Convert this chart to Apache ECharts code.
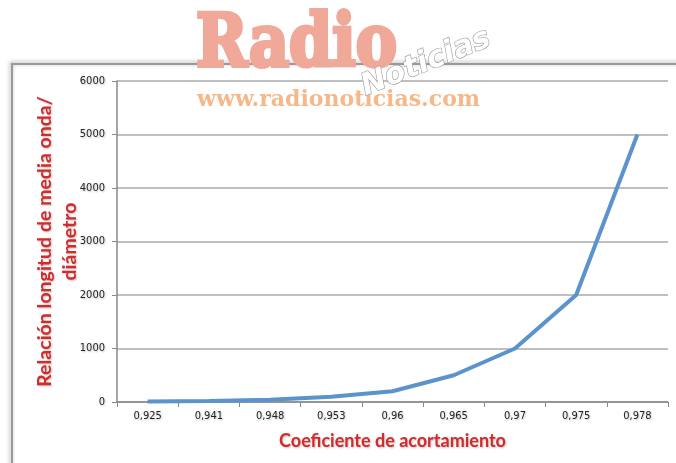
<!DOCTYPE html>
<html>
<head>
<meta charset="utf-8">
<script src="https://cdn.jsdelivr.net/npm/echarts@6/dist/echarts.min.js"></script>
<style>html,body{margin:0;padding:0;background:#fff}#c{width:676px;height:463px}</style>
</head>
<body>
<div id="c"></div>
<script>
var categories = ['0,925','0,941','0,948','0,953','0,96','0,965','0,97','0,975','0,978'];
var ratioValues = [10, 20, 40, 100, 200, 500, 1000, 2000, 5000];
var yTicks = [0, 1000, 2000, 3000, 4000, 5000, 6000];

var chart = echarts.init(document.getElementById('c'));
var labelFont = 'Lato';
var shadow = {textShadowColor: 'rgba(0,0,0,0.25)', textShadowBlur: 2, textShadowOffsetX: 1, textShadowOffsetY: 1};
chart.setOption({
  animation: false,
  backgroundColor: '#fff',
  grid: {left: 117, right: 8, top: 81, bottom: 61, containLabel: false},
  xAxis: {
    type: 'category',
    data: categories,
    name: 'Coeficiente de acortamiento',
    nameLocation: 'middle',
    nameGap: 30,
    nameMoveOverlap: false,
    nameTextStyle: Object.assign({color: '#d42a2a', fontFamily: labelFont, fontWeight: 'bold', fontSize: 18}, shadow),
    axisLine: {lineStyle: {color: '#888', width: 1.5}},
    axisTick: {show: true, length: 5, lineStyle: {color: '#888'}},
    axisLabel: Object.assign({color: '#222', fontSize: 11, fontFamily: 'DejaVu Sans Condensed', margin: 9}, shadow)
  },
  yAxis: {
    type: 'value',
    min: yTicks[0], max: yTicks[yTicks.length - 1], interval: 1000,
    name: 'Relación longitud de media onda/\ndiámetro',
    nameLocation: 'middle',
    nameRotate: 90,
    nameGap: 35,
    nameMoveOverlap: false,
    nameTextStyle: Object.assign({color: '#d42a2a', fontFamily: labelFont, fontWeight: 'bold', fontSize: 19.5, lineHeight: 25}, shadow),
    axisLine: {show: true, lineStyle: {color: '#888', width: 1.5}},
    axisTick: {show: true, length: 5, lineStyle: {color: '#888'}},
    splitLine: {lineStyle: {color: '#aaa', width: 1.5}},
    axisLabel: Object.assign({color: '#222', fontSize: 11, fontFamily: 'DejaVu Sans Condensed', margin: 12,
      formatter: function (v) { return String(v); }}, shadow)
  },
  series: [{
    type: 'line',
    data: ratioValues,
    symbol: 'none',
    lineStyle: {color: '#5b93cc', width: 4},
    z: 5
  }],
  graphic: [
    {type: 'rect', shape: {x: 12, y: 64, width: 720, height: 460}, silent: true, z: -10,
      style: {fill: 'none', stroke: '#999', lineWidth: 2, shadowColor: 'rgba(0,0,0,0.35)', shadowBlur: 4, shadowOffsetX: -1, shadowOffsetY: -1}},
    {type: 'text', x: 196, y: 11, scaleX: 0.86, z: 100, silent: true,
      style: {text: 'Radio', font: 'bold 72px "DejaVu Serif"', fill: '#f0a898', stroke: '#f0a898', lineWidth: 4,
        shadowColor: 'rgba(0,0,0,0.2)', shadowBlur: 3, shadowOffsetX: 1, shadowOffsetY: 1}},
    {type: 'text', x: 426, y: 63, rotation: 0.38, z: 101, silent: true,
      style: {text: 'Noticias', font: 'italic bold 30px "DejaVu Sans"', fill: '#fff', stroke: '#999', lineWidth: 1.2,
        align: 'center', verticalAlign: 'middle'}},
    {type: 'text', x: 197, y: 89, z: 100, silent: true,
      style: {text: 'www.radionoticias.com', font: 'bold 22px "DejaVu Serif"', fill: '#f5b88a'}}
  ]
});
</script>
</body>
</html>
